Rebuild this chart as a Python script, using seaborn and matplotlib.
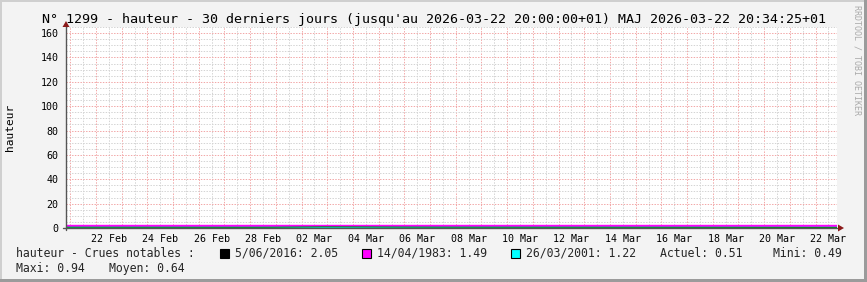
import matplotlib
matplotlib.use("Agg")
import matplotlib.pyplot as plt
import matplotlib.dates as mdates
from matplotlib.patches import Rectangle, Polygon
from matplotlib.lines import Line2D
from matplotlib.ticker import MultipleLocator
import seaborn as sns
import pandas as pd

# ---------------- data ----------------
start_time = "2026-02-20 20:00"
end_time = "2026-03-22 20:00"
timestamps = pd.date_range(start_time, end_time, freq="D")
hauteur = [0.63, 0.62, 0.61, 0.60, 0.60, 0.59, 0.58, 0.57, 0.62, 0.78,
           0.94, 0.90, 0.82, 0.75, 0.70, 0.67, 0.65, 0.64, 0.63, 0.62,
           0.61, 0.60, 0.59, 0.58, 0.57, 0.56, 0.55, 0.53, 0.52, 0.49, 0.51]
crue_labels = ["5/06/2016", "14/04/1983", "26/03/2001"]
crue_values = [2.05, 1.49, 1.22]
crue_colors = ["#000000", "#ff00ff", "#00ffff"]
stat_labels = ["Actuel", "Mini", "Maxi", "Moyen"]
stat_values = [0.51, 0.49, 0.94, 0.64]
label_days = pd.date_range("2026-02-22 12:00", "2026-03-22 12:00", freq="2D")

title = ("N° 1299 - hauteur - 30 derniers jours (jusqu'au 2026-03-22 20:00:00+01) "
         "MAJ 2026-03-22 20:34:25+01")

# ---------------- style ----------------
sns.set_style("white")
plt.rcParams["font.family"] = ["DejaVu Sans Mono", "DejaVu Sans"]
W, H = 867, 282
MONO = "DejaVu Sans Mono"
PX = 0.72  # one pixel in points


def fx(px):
    return px / W


def fy(py):
    return 1 - py / H


fig = plt.figure(figsize=(W / 100, H / 100), dpi=100)
fig.patch.set_facecolor("#f3f3f3")

# frame border (light top/left, dark bottom/right)
fig.add_artist(Rectangle((0, fy(2)), 1, 2 / H, transform=fig.transFigure,
                         facecolor="#cfcfcf", edgecolor="none"))
fig.add_artist(Rectangle((0, 0), 2 / W, 1, transform=fig.transFigure,
                         facecolor="#cfcfcf", edgecolor="none"))
fig.add_artist(Rectangle((fx(W - 3), 0), 3 / W, 1, transform=fig.transFigure,
                         facecolor="#9b9b9b", edgecolor="none"))
fig.add_artist(Rectangle((0, 0), 1, 3 / H, transform=fig.transFigure,
                         facecolor="#9b9b9b", edgecolor="none"))

left_px, right_px, top_px, bottom_px = 66, 837, 27, 228
ax = fig.add_axes([fx(left_px), fy(bottom_px), fx(right_px - left_px),
                   (bottom_px - top_px) / H])
ax.set_facecolor("white")

df = pd.DataFrame({"time": timestamps, "hauteur": hauteur})

# horizontal rules of notable floods (stacked so each stays visible)
rule_widths = [3.0 * PX, 2.4 * PX, 1.4 * PX]
for i, (v, c, w) in enumerate(zip(crue_values, crue_colors, rule_widths)):
    ax.axhline(v, color=c, lw=w, zorder=3 + 0.1 * i)

sns.lineplot(data=df, x="time", y="hauteur", ax=ax, color="#008000",
             lw=1.0 * PX, zorder=3.5)

ax.set_xlim(pd.Timestamp(start_time), pd.Timestamp(end_time))
ax.set_ylim(0, 165)

# grids
ax.yaxis.set_major_locator(MultipleLocator(20))
ax.yaxis.set_minor_locator(MultipleLocator(5))
ax.xaxis.set_major_locator(mdates.DayLocator())
ax.xaxis.set_minor_locator(mdates.HourLocator(byhour=[12]))
ax.set_axisbelow(True)
dot = (0, (1.4, 1.4))
ax.grid(which="minor", color="#d4d4d4", lw=PX, linestyle=dot)
ax.grid(which="major", color="#f2a8a8", lw=PX, linestyle=dot)

ax.xaxis.set_major_formatter(plt.NullFormatter())
ax.tick_params(axis="x", which="major", length=2, width=0.7, color="#555555")
ax.tick_params(axis="x", which="minor", length=0)
ax.tick_params(axis="y", which="major", length=4, width=0.7, color="#555555",
               pad=1.5, labelsize=7.2, labelcolor="#000000")
ax.tick_params(axis="y", which="minor", length=0)
for lab in ax.get_yticklabels():
    lab.set_family(MONO)

sec = ax.secondary_xaxis("bottom")
sec.set_xticks(list(label_days))
sec.xaxis.set_major_formatter(mdates.DateFormatter("%d %b"))
sec.tick_params(length=0, pad=4.5, labelsize=7.2, labelcolor="#000000")
for sp in sec.spines.values():
    sp.set_visible(False)
for lab in sec.get_xticklabels():
    lab.set_family(MONO)

ax.set_xlabel("")
ax.set_ylabel("")
for sp in ax.spines.values():
    sp.set_visible(False)

# axis lines with arrows
axis_col = "#555555"
arrow_col = "#8b1a1a"
ax_h = bottom_px - top_px
ax_w = right_px - left_px
ax.add_line(Line2D([0, 0], [-2 / ax_h, 1 + 1 / ax_h], transform=ax.transAxes,
                   color=axis_col, lw=1.0, clip_on=False, zorder=5))
ax.add_line(Line2D([-3 / ax_w, 1 + 2 / ax_w], [0, 0], transform=ax.transAxes,
                   color=axis_col, lw=1.0, clip_on=False, zorder=5))
ax.add_patch(Polygon([(-3.5 / ax_w, 1 + 0 / ax_h), (3.5 / ax_w, 1 + 0 / ax_h),
                      (0, 1 + 6 / ax_h)], closed=True, transform=ax.transAxes,
                     facecolor=arrow_col, edgecolor="none", clip_on=False,
                     zorder=6))
ax.add_patch(Polygon([(1 + 1 / ax_w, 3.5 / ax_h), (1 + 1 / ax_w, -3.5 / ax_h),
                      (1 + 7 / ax_w, 0)], closed=True, transform=ax.transAxes,
                     facecolor=arrow_col, edgecolor="none", clip_on=False,
                     zorder=6))

# title, labels, watermark
fig.text(fx(433.5), fy(19), title, ha="center", va="center", fontsize=9.65,
         family=MONO, color="#000000")
fig.text(fx(10), fy(127), "hauteur", rotation=90, ha="center", va="center",
         fontsize=8, family=MONO, color="#000000")
fig.text(fx(857), fy(5), "RRDTOOL / TOBI OETIKER", rotation=270, ha="center",
         va="top", fontsize=6, family=MONO, color="#aaaaaa")

# legend
row1, row2 = 253.5, 268.5
lfs = 8.3
fig.text(fx(16), fy(row1), "hauteur - Crues notables :", ha="left",
         va="center", fontsize=lfs, family=MONO)
sq_x = [220, 362, 511]
for x0, lab, v, c in zip(sq_x, crue_labels, crue_values, crue_colors):
    fig.add_artist(Rectangle((fx(x0), fy(row1 + 4.5)), 9 / W, 9 / H,
                             transform=fig.transFigure, facecolor=c,
                             edgecolor="#000000", lw=0.8))
    fig.text(fx(x0 + 15), fy(row1), f"{lab}: {v:.2f}", ha="left", va="center",
             fontsize=lfs, family=MONO)

stat_pos = [(660, row1), (773, row1), (16, row2), (109, row2)]
for (x0, yy), lab, v in zip(stat_pos, stat_labels, stat_values):
    fig.text(fx(x0), fy(yy), f"{lab}: {v:.2f}", ha="left", va="center",
             fontsize=lfs, family=MONO)

fig.savefig("out.png", dpi=100, facecolor=fig.get_facecolor())
